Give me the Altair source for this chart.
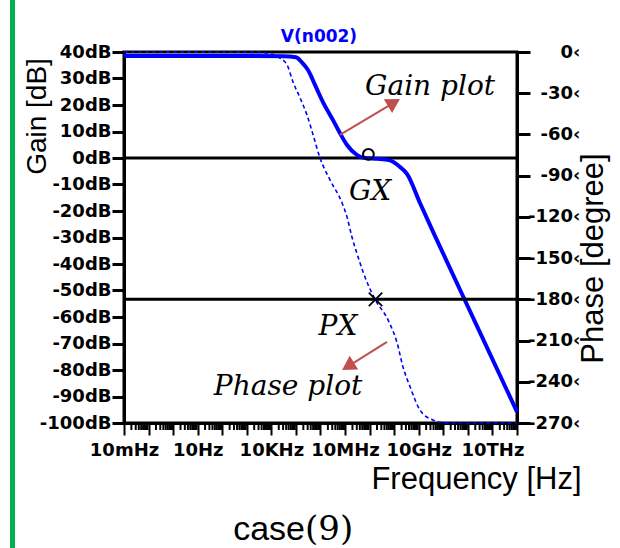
import altair as alt
import pandas as pd
import numpy as np

# ---------------- data ----------------
gain_logf = [-2.0, 2.0, 4.5, 5.0, 5.25, 5.49, 5.78, 6.10, 6.51, 6.79, 7.08, 7.49, 7.81,
             8.30, 8.83, 9.24, 9.52, 10.05, 10.74, 12.5, 14.0]
gain_db = [38.5, 38.5, 38.4, 38.0, 36.0, 33.2, 27.5, 21.1, 14.3, 9.4, 4.9, 1.1, 0.0,
           -0.3, -0.9, -3.4, -6.0, -17.0, -31.0, -66.0, -95.8]

phase_logf = [-2.0, 3.5, 4.0, 4.27, 4.64, 4.88, 5.17, 5.45, 5.70, 5.98, 6.39, 6.88, 7.08,
              7.28, 7.53, 7.81, 8.22, 8.75, 9.12, 9.36, 9.65, 10.05, 10.58, 11.15, 14.0]
phase_deg = [0.0, -0.3, -1.5, -3.6, -9.5, -21.8, -33.5, -45.9, -60.4, -77.1, -93.2, -109.9, -120.1,
             -134.6, -149.2, -163.8, -180.0, -195.0, -211.8, -229.3, -243.8, -260.6, -267.8, -270.0, -270.0]

x_label_exps = [-2, 1, 4, 7, 10, 13]
x_label_text = ["10mHz", "10Hz", "10KHz", "10MHz", "10GHz", "10THz"]
decade_exps = list(range(-2, 15))
gain_ticks = list(range(-100, 41, 10))
phase_ticks = list(range(-270, 1, 30))

ann_text = ["Gain plot", "GX", "PX", "Phase plot"]
ann_logf = [10.46, 8.02, 6.71, 4.68]
ann_db = [23.8, -15.8, -66.8, -89.4]

arrow_tail_logf = [6.79, 8.71]
arrow_tail_db = [8.7, -69.4]
arrow_head_logf = [8.99, 7.12]
arrow_head_db = [20.9, -78.6]
arrow_angle = [59, 238]

gx_logf, gx_db = [7.95], [1.4]
px_logf, px_deg = [8.24], [-180.0]

chart_title = "V(n002)"

# ---------------- layout ----------------
W, H = 393, 371
X_DOMAIN = [1e-2, 1e14]
BLUE = "#0000FF"
ARROW = "#C0504D"

label_expr = "''"
for e, lab in reversed(list(zip(x_label_exps, x_label_text))):
    label_expr = f"abs(log(datum.value)/LN10 - ({e})) < 0.01 ? '{lab}' : " + label_expr

x_axis = alt.Axis(values=[10.0 ** e for e in decade_exps], labelExpr=label_expr,
                  labelFlush=False, labelOverlap=False, tickSize=12, tickWidth=2,
                  domainWidth=3, domainColor="black", tickColor="black",
                  labelFont="DejaVu Sans", labelFontWeight="bold", labelFontSize=18,
                  labelColor="black", labelPadding=6, labelBaseline="top",
                  title="Frequency [Hz]", titleFont="Liberation Sans", titleFontSize=31,
                  titleFontWeight="normal", titleColor="black", titleX=352, titleY=65,
                  titleAlign="center", titleBaseline="alphabetic", grid=False)

gain_axis = alt.Axis(values=gain_ticks, labelExpr="datum.value + 'dB'", orient="left",
                     tickSize=12, tickWidth=3, domainWidth=3, domainColor="black", tickColor="black",
                     labelFont="DejaVu Sans", labelFontWeight="bold", labelFontSize=18,
                     labelColor="black", labelPadding=1, labelFlush=False, labelOverlap=False,
                     title="Gain [dB]", titleFont="Liberation Sans", titleFontSize=28,
                     titleFontWeight="normal", titleColor="black", titleAngle=270,
                     titleX=-79, titleY=64, titleAlign="center", titleBaseline="alphabetic",
                     grid=False)

phase_axis = alt.Axis(values=phase_ticks, labelExpr="datum.value + '‹'", orient="right",
                      tickSize=13, tickWidth=3, domainWidth=3, domainColor="black", tickColor="black",
                      labelFont="DejaVu Sans", labelFontWeight="bold", labelFontSize=18,
                      labelColor="black", labelAlign="right", labelPadding=50,
                      labelFlush=False, labelOverlap=False,
                      title="Phase [degree]", titleFont="Liberation Sans", titleFontSize=31,
                      titleFontWeight="normal", titleColor="black", titleAngle=270,
                      titleX=85, titleY=206, titleAlign="center", titleBaseline="alphabetic",
                      grid=False)


def xenc(field="freq"):
    return alt.X(f"{field}:Q", scale=alt.Scale(type="log", domain=X_DOMAIN, nice=False), axis=x_axis)


def ygain(field="gain"):
    return alt.Y(f"{field}:Q", scale=alt.Scale(domain=[-100, 40], nice=False, zero=False), axis=gain_axis)


def yphase(field="phase"):
    return alt.Y(f"{field}:Q", scale=alt.Scale(domain=[-270, 0], nice=False, zero=False), axis=phase_axis)


gain_df = pd.DataFrame({"freq": [10.0 ** v for v in gain_logf], "gain": gain_db})
phase_df = pd.DataFrame({"freq": [10.0 ** v for v in phase_logf], "phase": phase_deg})
ann_df = pd.DataFrame({"freq": [10.0 ** v for v in ann_logf], "gain": ann_db, "label": ann_text})
arrow_df = pd.DataFrame({
    "freq": [10.0 ** v for v in arrow_tail_logf], "gain": arrow_tail_db,
    "freq2": [10.0 ** v for v in arrow_head_logf], "gain2": arrow_head_db,
    "angle": arrow_angle,
})
minor_df = pd.DataFrame({"freq": [m * 10.0 ** k for k in range(-2, 14) for m in range(2, 10)]})
gx_df = pd.DataFrame({"freq": [10.0 ** v for v in gx_logf], "gain": gx_db})
px_df = pd.DataFrame({"freq": [10.0 ** v for v in px_logf], "phase": px_deg})
one = pd.DataFrame({"k": [0]})

zero_rule = alt.Chart(pd.DataFrame({"gain": [0]})).mark_rule(color="black", strokeWidth=3).encode(y=ygain())
gain_line = alt.Chart(gain_df).mark_line(color=BLUE, strokeWidth=4, interpolate="monotone").encode(
    x=xenc(), y=ygain())
gx_mark = alt.Chart(gx_df).mark_point(shape="circle", size=115, filled=False, color="black",
                                       strokeWidth=2, opacity=1).encode(x=xenc(), y=ygain())
texts = alt.Chart(ann_df).mark_text(font="DejaVu Serif", fontStyle="italic", fontSize=28,
                                    color="black", align="center", baseline="alphabetic").encode(
    x=xenc(), y=ygain(), text="label:N")
arrow_lines = alt.Chart(arrow_df).mark_rule(color=ARROW, strokeWidth=2).encode(
    x=xenc(), y=ygain(), x2="freq2:Q", y2="gain2:Q")
arrow_heads = alt.Chart(arrow_df).mark_point(shape="triangle-up", size=260, filled=True,
                                              color=ARROW, opacity=1).encode(
    x=xenc("freq2"), y=ygain("gain2"), angle=alt.Angle("angle:Q", scale=None))
minor_ticks = alt.Chart(minor_df).mark_rule(color="black", strokeWidth=2).encode(
    x=xenc(), y=alt.value(H), y2=alt.value(H + 7))
case_a = alt.Chart(one).mark_text(text="case", font="Liberation Sans", fontSize=34, color="black",
                                  align="right", baseline="alphabetic").encode(
    x=alt.value(181), y=alt.value(488))
case_b = alt.Chart(one).mark_text(text="(9)", font="DejaVu Serif", fontSize=34, color="black",
                                  align="left", baseline="alphabetic").encode(
    x=alt.value(181), y=alt.value(488))
title_txt = alt.Chart(one).mark_text(text=chart_title, font="DejaVu Sans", fontSize=17,
                                     fontWeight="bold", color=BLUE, align="center",
                                     baseline="alphabetic").encode(
    x=alt.value(195), y=alt.value(-10))
green = alt.Chart(one).mark_rule(color="#00B050", strokeWidth=5).encode(
    x=alt.value(-111.5), y=alt.value(-52), y2=alt.value(496))

rule180 = alt.Chart(pd.DataFrame({"phase": [-180]})).mark_rule(color="black", strokeWidth=3).encode(
    y=yphase())
phase_line = alt.Chart(phase_df).mark_line(color=BLUE, strokeWidth=1.6, strokeDash=[4, 3],
                                           interpolate="monotone").encode(x=xenc(), y=yphase())
px_mark = alt.Chart(px_df).mark_point(shape="M-1,-1L1,1M1,-1L-1,1", size=180, filled=False,
                                       color="black", strokeWidth=1.8, opacity=1).encode(
    x=xenc(), y=yphase())

gain_layer = alt.layer(zero_rule, gain_line, gx_mark, texts, arrow_lines, arrow_heads,
                       minor_ticks, case_a, case_b, title_txt, green)
phase_layer = alt.layer(rule180, phase_line, px_mark)

chart = alt.layer(gain_layer, phase_layer).resolve_scale(y="independent").properties(
    width=W, height=H,
    padding={"left": 124, "top": 52, "right": 103, "bottom": 125},
    autosize=alt.AutoSizeParams(type="none"),
    background="white",
).configure_view(stroke="black", strokeWidth=3)

chart.save("out.html", embed_options={"renderer": "svg", "actions": False})
